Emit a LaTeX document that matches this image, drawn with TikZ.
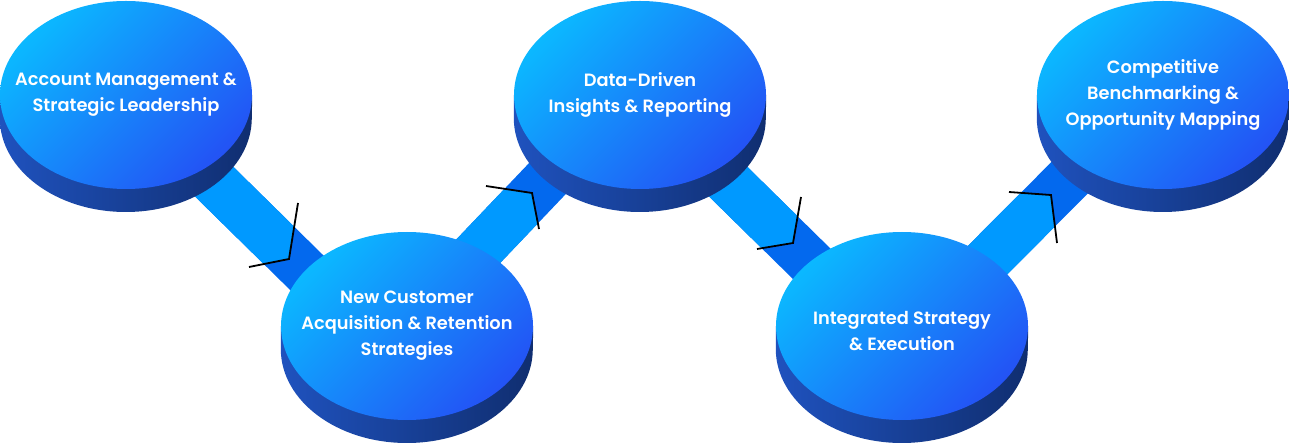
\documentclass[tikz,border=0pt]{standalone}
\usepackage{fontspec}
\setmainfont{Poppins}[BoldFont={* SemiBold}]
\usetikzlibrary{shapes.geometric, backgrounds}
\definecolor{discTop}{HTML}{0BB8FF}
\definecolor{discLow}{HTML}{2353F5}
\definecolor{sideLeft}{HTML}{1F52BE}
\definecolor{sideRight}{HTML}{102E70}
\definecolor{bandLight}{HTML}{0099FF}
\definecolor{bandDark}{HTML}{0369EE}
\tikzset{
	disc/.style = {ellipse, minimum width=252pt, minimum height=188pt, inner sep=-30pt,
		top color=discTop, bottom color=discLow, shading angle=45,
		text=white, font=\bfseries\fontsize{17.8pt}{26pt}\selectfont, align=center},
	side/.style = {left color=sideLeft, right color=sideRight},
	band/.style = {line width=48pt, line cap=butt},
	kink/.style = {black, line width=1.8pt}
}
\begin{document}
\begin{tikzpicture}[x=1pt, y=-1pt]
	\useasboundingbox (0,0) rectangle (1289,443);
	\node[disc] (acct) at (126,95) {Account Management \&\\Strategic Leadership};
	\node[disc] (cust) at (407,326) {New Customer\\Acquisition \& Retention\\Strategies};
	\node[disc] (data) at (640,95) {Data-Driven\\Insights \& Reporting};
	\node[disc] (intg) at (902,326) {\rule{0pt}{23pt}Integrated Strategy\\\& Execution};
	\node[disc] (comp) at (1163,95) {Competitive\\Benchmarking \&\\Opportunity Mapping};

	\coordinate (endA) at (361,326);
	\coordinate (endB) at (627,95);
	\coordinate (endC) at (875,326);
	\coordinate (startD) at (922,326);
	\coordinate (endD) at (1152,95);

	\coordinate (kinkA1) at (298,203);
	\coordinate (kinkA2) at (289,259);
	\coordinate (kinkA3) at (249,267);
	\coordinate (kinkB1) at (486,186);
	\coordinate (kinkB2) at (532,193);
	\coordinate (kinkB3) at (539,229);
	\coordinate (kinkC1) at (801,197);
	\coordinate (kinkC2) at (793,243);
	\coordinate (kinkC3) at (757,249);
	\coordinate (kinkD1) at (1009,192);
	\coordinate (kinkD2) at (1051,195);
	\coordinate (kinkD3) at (1057,243);

	\begin{pgfonlayer}{background}
		% dark band first, light part is clipped at the kink
		\draw[band, bandDark] (acct.center) -- (endA);
		\draw[band, bandDark] (cust.center) -- (endB);
		\draw[band, bandDark] (data.center) -- (endC);
		\draw[band, bandDark] (startD) -- (endD);
		\begin{scope}
			\clip (kinkA1) -- (kinkA2) -- (kinkA3) -- (100,300) -- (100,100) -- (298,100) -- cycle;
			\draw[band, bandLight] (acct.center) -- (endA);
		\end{scope}
		\begin{scope}
			\clip (kinkB1) -- (kinkB2) -- (kinkB3) -- (539,400) -- (400,400) -- (400,186) -- cycle;
			\draw[band, bandLight] (cust.center) -- (endB);
		\end{scope}
		\begin{scope}
			\clip (kinkC1) -- (kinkC2) -- (kinkC3) -- (620,300) -- (620,100) -- (801,100) -- cycle;
			\draw[band, bandLight] (data.center) -- (endC);
		\end{scope}
		\begin{scope}
			\clip (kinkD1) -- (kinkD2) -- (kinkD3) -- (1057,400) -- (900,400) -- (900,192) -- cycle;
			\draw[band, bandLight] (startD) -- (endD);
		\end{scope}
		\draw[kink] (kinkA1) -- (kinkA2) -- (kinkA3);
		\draw[kink] (kinkB1) -- (kinkB2) -- (kinkB3);
		\draw[kink] (kinkC1) -- (kinkC2) -- (kinkC3);
		\draw[kink] (kinkD1) -- (kinkD2) -- (kinkD3);
		% the rim under each disc
		\foreach \n in {acct, cust, data, intg, comp}
			\shade[side] (\n.west) -- ++(0,23) arc[start angle=180, end angle=360, x radius=126, y radius=-94] -- (\n.east) -- (\n.center) -- cycle;
	\end{pgfonlayer}
\end{tikzpicture}
\end{document}
